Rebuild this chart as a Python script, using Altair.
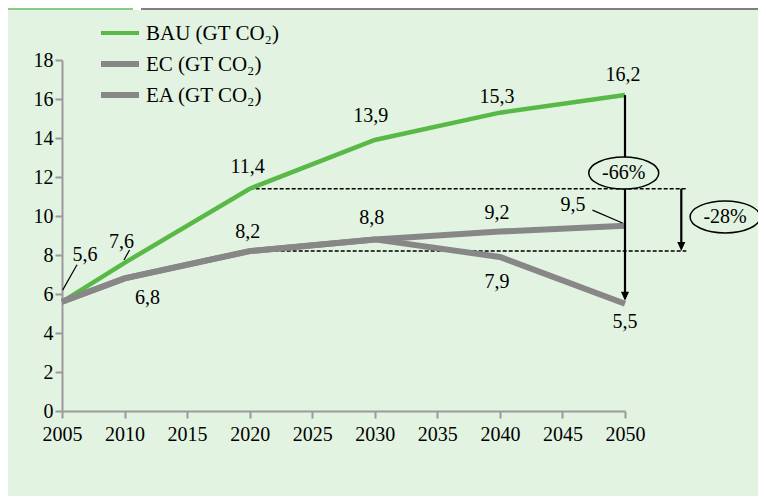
import altair as alt
import pandas as pd

# ---- data ----
years = [2005, 2010, 2020, 2030, 2040, 2050]
bau = [5.6, 7.6, 11.4, 13.9, 15.3, 16.2]
ec = [5.6, 6.8, 8.2, 8.8, 9.2, 9.5]
ea = [5.6, 6.8, 8.2, 8.8, 7.9, 5.5]
series_keys = ["BAU", "EC", "EA"]
series_names = ["BAU (GT CO₂)", "EC (GT CO₂)", "EA (GT CO₂)"]
x_ticks = list(range(2005, 2051, 5))
y_ticks = list(range(0, 19, 2))
reduction_labels = ["-66%", "-28%"]

BG = "#e2f3e1"
GREEN = "#58b947"
GRAY = "#878787"
AXIS = "#9a9a9a"
FONT = "Liberation Serif"

values = {"BAU": bau, "EC": ec, "EA": ea}
df = pd.DataFrame({
    "year": years * 3,
    "value": bau + ec + ea,
    "series": [k for k in series_keys for _ in years],
})

xs = alt.Scale(domain=[2005, 2050], nice=False, zero=False)
ys = alt.Scale(domain=[0, 18], nice=False, zero=False)
X = alt.X("year:Q", scale=xs, axis=alt.Axis(values=x_ticks, format="d", title=None,
                                             labelFlush=False, grid=False, labelPadding=6))
Y = alt.Y("value:Q", scale=ys, axis=alt.Axis(values=y_ticks, title=None, grid=False,
                                              labelPadding=2))
one = pd.DataFrame({"a": [0]})

layers = []

# header strip (decor)
layers.append(alt.Chart(one).mark_rect(color="white").encode(
    x=alt.value(-54), x2=alt.value(696), y=alt.value(-52), y2=alt.value(-50)))
layers.append(alt.Chart(one).mark_rect(color="#88cc86").encode(
    x=alt.value(-54), x2=alt.value(71), y=alt.value(-52), y2=alt.value(-50)))
layers.append(alt.Chart(one).mark_rect(color="#808080").encode(
    x=alt.value(79), x2=alt.value(696), y=alt.value(-52), y2=alt.value(-50)))

# dashed reference lines at BAU 2020 and EC 2020 levels
dashed = pd.DataFrame({"year": [2020, 2022], "year2": [2054.9, 2054.9],
                       "value": [bau[2], ec[2]]})
layers.append(alt.Chart(dashed).mark_rule(color="black", strokeWidth=1.5, strokeDash=[4, 2]).encode(
    x=X, x2="year2:Q", y=Y))

# lines
layers.append(alt.Chart(df[df.series == "BAU"]).mark_line(color=GREEN, strokeWidth=4.5).encode(x=X, y=Y))
layers.append(alt.Chart(df[df.series != "BAU"]).mark_line(color=GRAY, strokeWidth=6).encode(
    x=X, y=Y, detail="series:N"))

# arrows
arrows = pd.DataFrame({"year": [2050, 2054.5], "value": [16.2, 11.4], "value2": [5.9, 8.45]})
layers.append(alt.Chart(arrows).mark_rule(color="black", strokeWidth=2.2).encode(x=X, y=Y, y2="value2:Q"))
heads = pd.DataFrame({"year": [2050, 2054.5], "value": [5.65, 8.2]})
layers.append(alt.Chart(heads).mark_point(shape="M-0.45,-1L0.45,-1L0,0Z", size=324, filled=True,
                                          color="black", opacity=1, strokeWidth=0).encode(x=X, y=Y))

# leader lines
leaders = pd.DataFrame({"year": [2005.05, 2009.95, 2047.4], "value": [6.2, 7.74, 10.3],
                        "year2": [2006.2, 2010.4, 2049.8], "value2": [7.5, 8.26, 9.64]})
layers.append(alt.Chart(leaders).mark_rule(color="black", strokeWidth=1.2).encode(
    x=X, y=Y, x2="year2:Q", y2="value2:Q"))

# data labels
label_specs = [("BAU", 0, 23, -47), ("BAU", 1, -3, -21), ("EC", 1, 23, 20), ("BAU", 2, -2, -22),
               ("EC", 2, -2, -19), ("BAU", 3, -4, -24), ("EC", 3, -3, -21), ("BAU", 4, -3, -16),
               ("EC", 4, -3, -19), ("EA", 4, -3, 25), ("BAU", 5, -2, -20), ("EC", 5, -52, -21),
               ("EA", 5, 0, 18)]
for key, i, dx, dy in label_specs:
    v = values[key][i]
    d = pd.DataFrame({"year": [years[i]], "value": [v], "label": [f"{v:.1f}".replace(".", ",")]})
    layers.append(alt.Chart(d).mark_text(dx=dx, dy=dy, font=FONT, fontSize=20, color="black").encode(
        x=X, y=Y, text="label:N"))

# ellipses with reductions
ell = pd.DataFrame({"year": [2049.9, 2058], "value": [12.2, 9.95], "label": reduction_labels})
layers.append(alt.Chart(ell).mark_point(shape="M-1,0A1,0.457,0,1,0,1,0A1,0.457,0,1,0,-1,0Z",
                                        size=4900, fill=BG, stroke="black", strokeWidth=1.5,
                                        opacity=1, fillOpacity=1).encode(x=X, y=Y))
layers.append(alt.Chart(ell).mark_text(font=FONT, fontSize=20, color="black").encode(
    x=X, y=Y, text="label:N"))

# legend (custom)
leg_colors = [GREEN, GRAY, GRAY]
leg_widths = [4, 6, 6]
for i, name in enumerate(series_names):
    yy = -27 + i * 31
    layers.append(alt.Chart(one).mark_rule(color=leg_colors[i], strokeWidth=leg_widths[i]).encode(
        x=alt.value(39), x2=alt.value(77), y=alt.value(yy)))
    layers.append(alt.Chart(one).mark_text(font=FONT, fontSize=21, color="black", align="left",
                                           baseline="middle").encode(
        x=alt.value(84), y=alt.value(yy + 1), text=alt.value(name)))

chart = alt.layer(*layers).properties(
    width=563, height=351, background=BG,
    padding={"left": 54, "top": 52, "right": 133, "bottom": 85},
    autosize=alt.AutoSizeParams(type="none"),
).configure_view(stroke=None).configure_axis(
    labelFont=FONT, labelFontSize=20, labelColor="black", domainColor=AXIS, domainWidth=2,
    tickColor=AXIS, tickWidth=2, tickSize=7)

chart.save("out.html", embed_options={"renderer": "svg", "actions": False})
